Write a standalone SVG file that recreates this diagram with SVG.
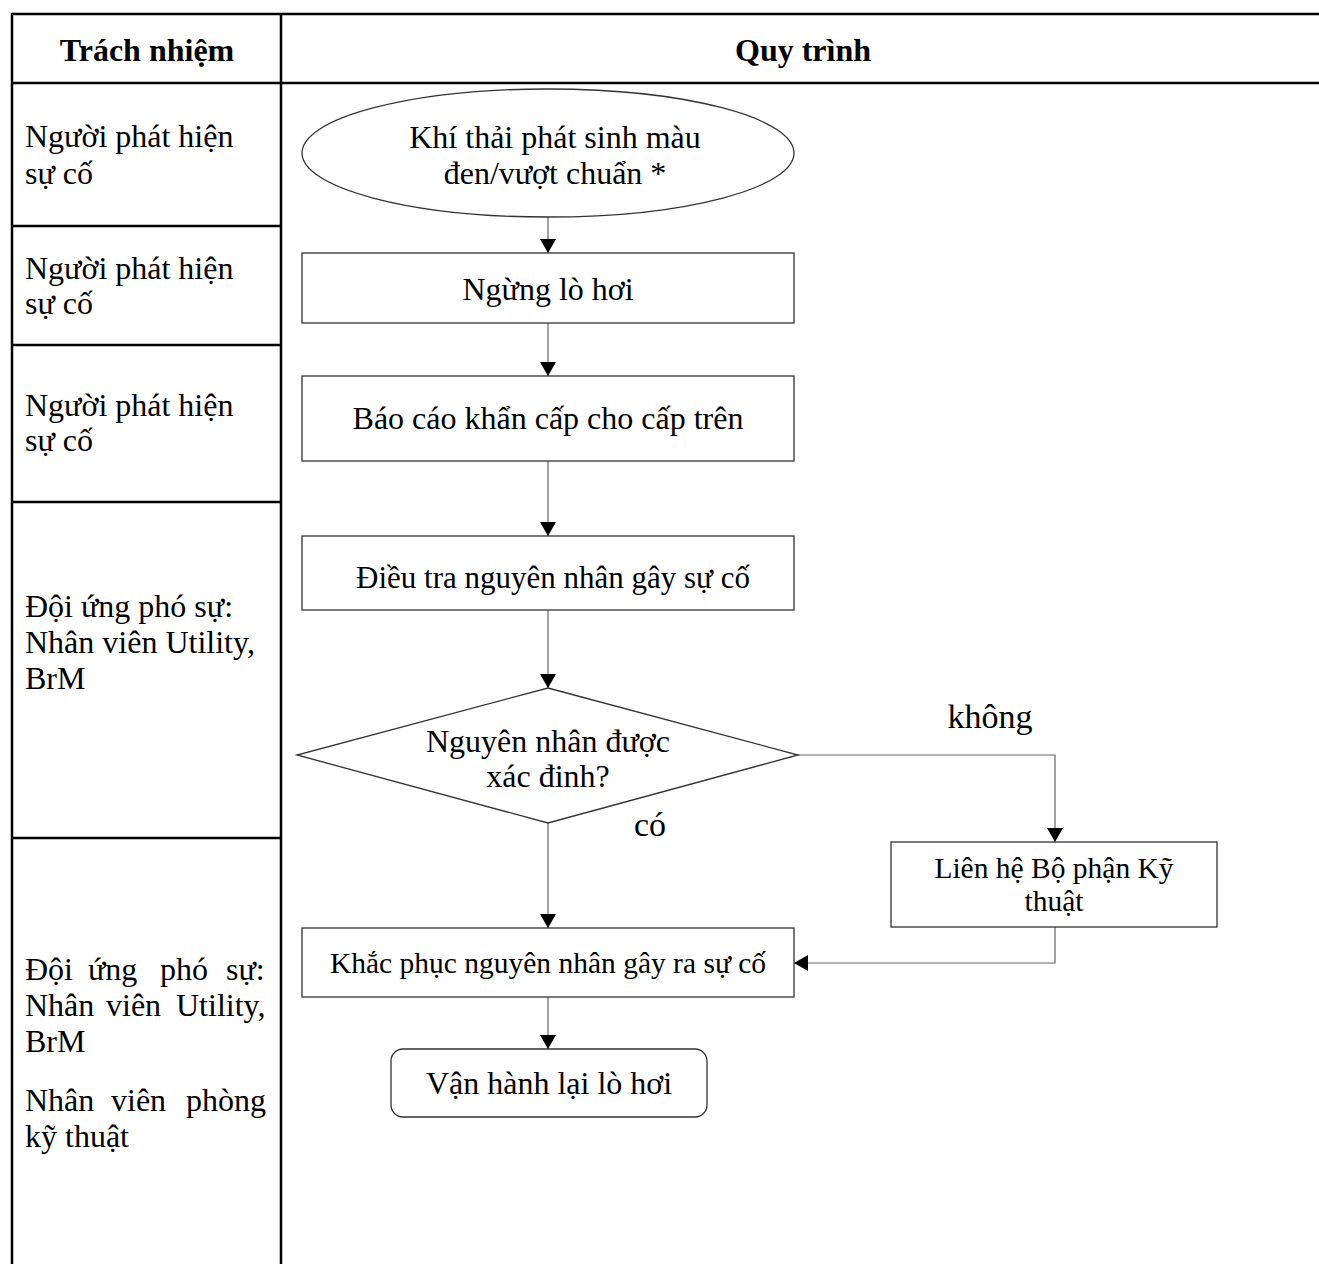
<svg xmlns="http://www.w3.org/2000/svg" width="1319" height="1264" viewBox="0 0 1319 1264">
<style>
text{font-family:"Liberation Serif","Times New Roman",serif;fill:#000}
.t{font-size:32px}
.s{font-size:29.5px}
.m{font-size:31px}
.b{font-size:32px;font-weight:bold}
.c{text-anchor:middle}
.tbl{stroke:#000;stroke-width:2.5;fill:none}
.nd{fill:#fff;stroke:#333;stroke-width:1.3}
.cn{fill:none;stroke:#666;stroke-width:1.2}
.lbl{font-size:34px}
</style>
<defs>
<marker id="ah" viewBox="0 0 14 16" refX="14" refY="8" markerWidth="14" markerHeight="16" markerUnits="userSpaceOnUse" orient="auto">
<path d="M0,0 L14,8 L0,16 Z" fill="#000"/>
</marker>
</defs>
<rect width="1319" height="1264" fill="#fff"/>
<g id="table">
<line class="tbl" x1="12" y1="14" x2="1319" y2="14"/>
<line class="tbl" x1="12" y1="83" x2="1319" y2="83"/>
<line class="tbl" x1="12" y1="13" x2="12" y2="1264"/>
<line class="tbl" x1="281" y1="13" x2="281" y2="1264"/>
<line class="tbl" x1="12" y1="226" x2="281" y2="226"/>
<line class="tbl" x1="12" y1="345" x2="281" y2="345"/>
<line class="tbl" x1="12" y1="502" x2="281" y2="502"/>
<line class="tbl" x1="12" y1="838" x2="281" y2="838"/>
<text class="b c" x="147" y="61">Trách nhiệm</text>
<text class="b c" x="803" y="61">Quy trình</text>
</g>
<g id="roles">
<text class="t" x="25" y="147">Người phát hiện</text>
<text class="t" x="25" y="184">sự cố</text>
<text class="t" x="25" y="279">Người phát hiện</text>
<text class="t" x="25" y="314">sự cố</text>
<text class="t" x="25" y="416">Người phát hiện</text>
<text class="t" x="25" y="451">sự cố</text>
<text class="t" x="25" y="617">Đội ứng phó sự:</text>
<text class="t" x="25" y="653">Nhân viên Utility,</text>
<text class="t" x="25" y="689">BrM</text>
<text class="t" y="980"><tspan x="25">Đội</tspan><tspan x="88">ứng</tspan><tspan x="160">phó</tspan><tspan x="226">sự:</tspan></text>
<text class="t" y="1016"><tspan x="25">Nhân</tspan><tspan x="106">viên</tspan><tspan x="176">Utility,</tspan></text>
<text class="t" x="25" y="1052">BrM</text>
<text class="t" y="1111"><tspan x="25">Nhân</tspan><tspan x="111">viên</tspan><tspan x="186">phòng</tspan></text>
<text class="t" x="25" y="1147">kỹ thuật</text>
</g>
<g id="connectors">
<line class="cn" x1="548" y1="217" x2="548" y2="253" marker-end="url(#ah)"/>
<line class="cn" x1="548" y1="323" x2="548" y2="376" marker-end="url(#ah)"/>
<line class="cn" x1="548" y1="461" x2="548" y2="536" marker-end="url(#ah)"/>
<line class="cn" x1="548" y1="610" x2="548" y2="688" marker-end="url(#ah)"/>
<line class="cn" x1="548" y1="823" x2="548" y2="928" marker-end="url(#ah)"/>
<polyline class="cn" points="798,755 1055,755 1055,842" marker-end="url(#ah)"/>
<polyline class="cn" points="1055,927 1055,963 794,963" marker-end="url(#ah)"/>
<line class="cn" x1="548" y1="997" x2="548" y2="1049" marker-end="url(#ah)"/>
<text class="lbl c" x="650" y="836">có</text>
<text class="lbl c" x="990" y="728">không</text>
</g>
<g id="n1">
<ellipse class="nd" cx="548" cy="153" rx="246" ry="64"/>
<text class="t c" x="555" y="148">Khí thải phát sinh màu</text>
<text class="t c" x="555" y="184">đen/vượt chuẩn *</text>
</g>
<g id="n2">
<rect class="nd" x="302" y="253" width="492" height="70"/>
<text class="t c" x="548" y="300">Ngừng lò hơi</text>
</g>
<g id="n3">
<rect class="nd" x="302" y="376" width="492" height="85"/>
<text class="t c" x="548" y="429">Báo cáo khẩn cấp cho cấp trên</text>
</g>
<g id="n4">
<rect class="nd" x="302" y="536" width="492" height="74"/>
<text class="m c" x="553" y="588">Điều tra nguyên nhân gây sự cố</text>
</g>
<g id="n5">
<polygon class="nd" points="548,688 798,755 548,823 297,755"/>
<text class="t c" x="548" y="752">Nguyên nhân được</text>
<text class="t c" x="548" y="787">xác đinh?</text>
</g>
<g id="n6">
<rect class="nd" x="891" y="842" width="326" height="85"/>
<text class="s c" x="1054" y="878">Liên hệ Bộ phận Kỹ</text>
<text class="s c" x="1054" y="911">thuật</text>
</g>
<g id="n7">
<rect class="nd" x="302" y="928" width="492" height="69"/>
<text class="s c" x="548" y="973">Khắc phục nguyên nhân gây ra sự cố</text>
</g>
<g id="n8">
<rect class="nd" x="391" y="1049" width="316" height="68" rx="12"/>
<text class="t c" x="549" y="1094">Vận hành lại lò hơi</text>
</g>
</svg>
